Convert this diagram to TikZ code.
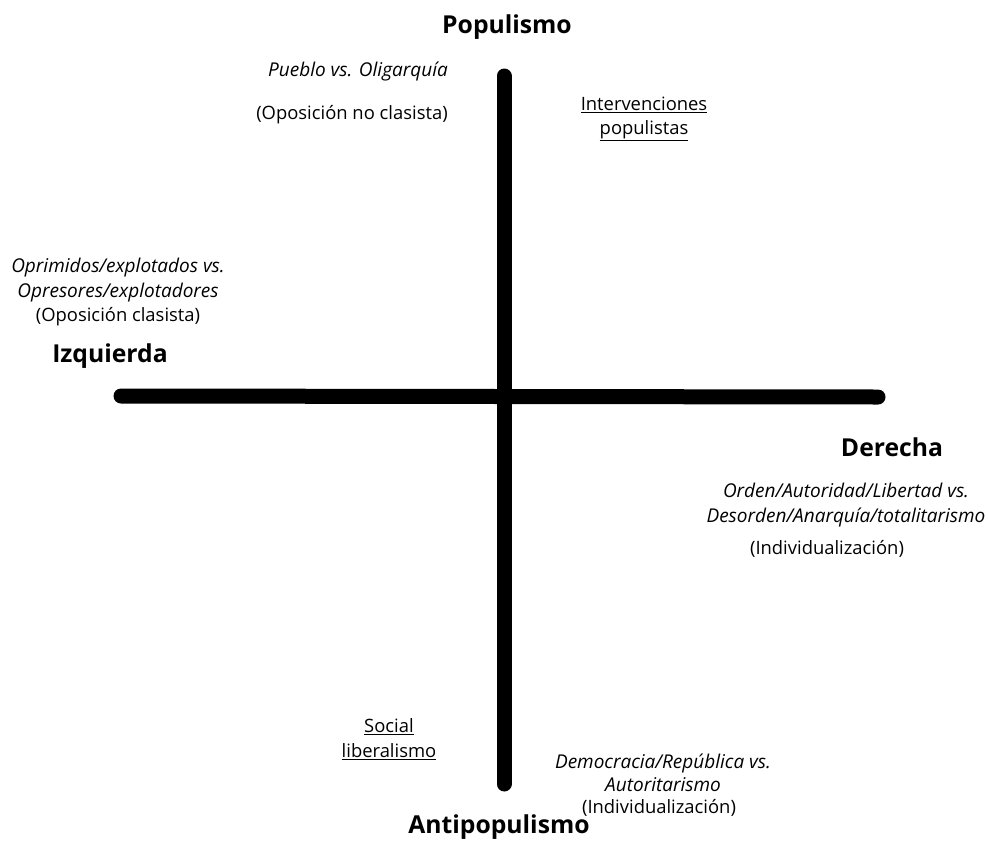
\documentclass[tikz,border=0pt]{standalone}
\usepackage{fontspec}
\setmainfont{Open Sans}
\begin{document}
\begin{tikzpicture}[x=1pt,y=-1pt,
  axis/.style={line width=15pt,line cap=round},
  big/.style={font=\fontsize{24.7}{28}\selectfont\bfseries,inner sep=0pt},
  txt/.style={font=\fontsize{18.4}{24.5}\selectfont,inner sep=0pt,align=center},
  itx/.style={font=\fontsize{19}{24.5}\selectfont\itshape,inner sep=0pt,align=center}]
\useasboundingbox (0,0) rectangle (988,841);
\fill[white] (0,0) rectangle (988,841);
% axes
\coordinate (vtop) at (504,76);
\coordinate (vbot) at (504,784);
\coordinate (hl) at (121,396);
\coordinate (hr) at (878,397);
\draw[axis] (vtop) -- (vbot);
\draw[axis] (hl) -- (hr);
% labels
\node[big] (pop) at (507,27) {Populismo};
\node[big] (antipop) at (499,827) {Antipopulismo};
\node[big] (izq) at (110,356) {Izquierda};
\node[big] (der) at (892,447) {Derecha};
% top-left
\node[itx] (pueblo) at (358,72) {Pueblo vs. Oligarquía};
\node[txt] (oposnc) at (352,115) {(Oposición no clasista)};
% top-right
\node[txt] (interv) at (644,119) {\underline{Intervenciones}\\\underline{populistas}};
% left
\node[itx] (oprim) at (118,280) {Oprimidos/explotados vs.\\Opresores/explotadores};
\node[txt] (oposc) at (118,317) {(Oposición clasista)};
% right
\node[itx] (orden) at (846,505) {Orden/Autoridad/Libertad vs.\\Desorden/Anarquía/totalitarismo};
\node[txt] (indiv1) at (827,549) {(Individualización)};
% bottom-left
\node[txt] (social) at (389,739) {\underline{Social}\\\underline{liberalismo}};
% bottom-right
\node[itx,font=\fontsize{19}{23.5}\selectfont\itshape] (democ) at (663,773) {Democracia/República vs.\\Autoritarismo};
\node[txt] (indiv2) at (659,808) {(Individualización)};
\end{tikzpicture}
\end{document}
